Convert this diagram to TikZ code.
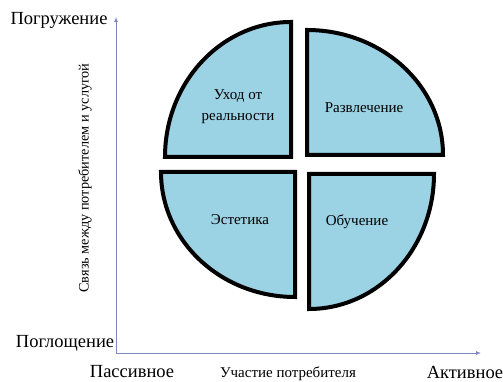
\documentclass[tikz,border=0pt]{standalone}
\usepackage{fontspec}
\setmainfont{Liberation Serif}
\usetikzlibrary{arrows.meta}

\definecolor{feld}{RGB}{155,210,228}
\definecolor{achse}{RGB}{125,135,195}

\begin{document}
\begin{tikzpicture}[x=1pt,y=1pt,
    feldstil/.style={draw=black,line width=4pt,fill=feld,line join=miter},
    achsenstil/.style={draw=achse,line width=0.9pt,-{Latex[length=5pt,width=4pt]}},
    every node/.style={inner sep=0pt,outer sep=0pt}]
    \useasboundingbox (0,0) rectangle (503,382);

    % Achsen
    \coordinate (o) at (116,29);
    \coordinate (oben) at (116,365);
    \coordinate (rechts) at (481,29);
    \draw[achsenstil] (o) -- (oben);
    \draw[achsenstil] (o) -- (rechts);

    % vier Felder
    \draw[feldstil] (291,225) -- (165,225) arc[start angle=180,end angle=90,x radius=126,y radius=135] -- cycle;
    \draw[feldstil] (307,227) -- (307,352) arc[start angle=90,end angle=0,x radius=136,y radius=125] -- cycle;
    \draw[feldstil] (295,210) -- (161,210) arc[start angle=180,end angle=270,x radius=134,y radius=125] -- cycle;
    \draw[feldstil] (309,208) -- (434,208) arc[start angle=0,end angle=-90,x radius=125,y radius=135] -- cycle;

    % Beschriftung der Felder
    \node[font=\fontsize{15}{21}\selectfont,align=center] (flucht) at (238,275) {Уход от\\реальности};
    \node[font=\fontsize{15}{21}\selectfont] (unterhaltung) at (364,274) {Развлечение};
    \node[font=\fontsize{15}{21}\selectfont] (aesthetik) at (240,162) {Эстетика};
    \node[font=\fontsize{15}{21}\selectfont] (bildung) at (357,160) {Обучение};

    % Achsenbeschriftung
    \node[font=\fontsize{18.5}{20}\selectfont] (eintauchen) at (59,362) {Погружение};
    \node[font=\fontsize{18.5}{20}\selectfont] (aufnahme) at (65,39) {Поглощение};
    \node[font=\fontsize{18.5}{20}\selectfont] (passiv) at (132,10) {Пассивное};
    \node[font=\fontsize{18.5}{20}\selectfont] (aktiv) at (465,10) {Активное};
    \node[font=\fontsize{15}{17}\selectfont,anchor=base] (teilnahme) at (288,4) {Участие потребителя};
    \node[font=\fontsize{14.3}{16}\selectfont,rotate=90] (bindung) at (85,204) {Связь между потребителем и услугой};
\end{tikzpicture}
\end{document}
